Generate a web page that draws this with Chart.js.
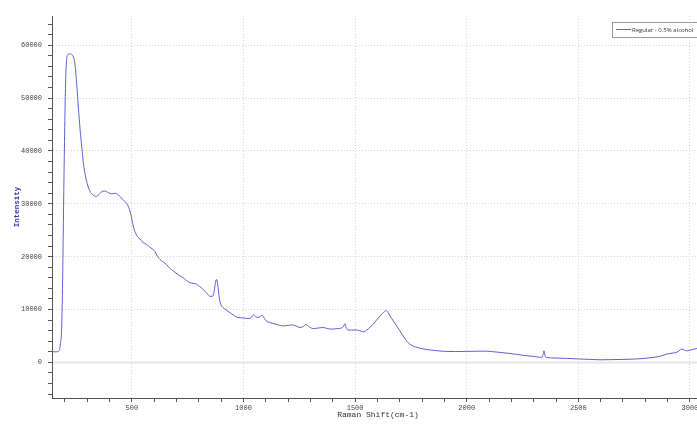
<!DOCTYPE html>
<html>
<head>
<meta charset="utf-8">
<script src="https://cdn.jsdelivr.net/npm/chart.js@4/dist/chart.umd.min.js"></script>
<style>
  html, body { margin: 0; padding: 0; overflow: hidden; background: #fff; }
  #wrap { position: relative; width: 710px; height: 433px; }
</style>
</head>
<body>
<div id="wrap"><canvas id="c"></canvas></div>
<script>
// Raman spectrum: shift (cm-1) and measured intensity
const ramanShift = [
  142, 160, 172, 180, 185, 189, 192, 196, 200, 203, 207, 212, 222, 232, 240, 246, 252, 260, 268, 275,
  282, 289, 300, 312, 325, 342, 355, 370, 379, 395, 409, 425, 439, 460, 483, 495, 506, 518, 530, 550,
  566, 590, 603, 615, 625, 640, 655, 670, 685, 710, 730, 750, 767, 790, 805, 820, 835, 850, 861, 868,
  873, 879, 884, 888, 893, 899, 916, 930, 946, 960, 975, 1000, 1020, 1035, 1045, 1055, 1065, 1075, 1085, 1094,
  1102, 1118, 1147, 1178, 1200, 1215, 1235, 1253, 1268, 1280, 1295, 1312, 1335, 1357, 1375, 1395, 1420, 1439, 1447, 1454,
  1460, 1466, 1485, 1499, 1520, 1536, 1552, 1566, 1580, 1596, 1612, 1626, 1638, 1647, 1656, 1670, 1686, 1700, 1715, 1730,
  1745, 1765, 1790, 1810, 1835, 1870, 1900, 1950, 2000, 2040, 2074, 2110, 2149, 2190, 2224, 2260, 2298, 2325, 2336, 2342,
  2346, 2350, 2356, 2400, 2447, 2500, 2550, 2597, 2650, 2700, 2746, 2790, 2836, 2870, 2896, 2920, 2940, 2955, 2963, 2975,
  2985, 3010, 3031, 3063
];
const intensity = [
  2000, 2000, 2100, 3500, 6300, 14000, 23300, 36000, 47000, 53000, 57000, 58200, 58400, 58200, 57500, 56000, 53000, 48400, 44000, 40900,
  38000, 35900, 33800, 32400, 31700, 31400, 31900, 32400, 32400, 32100, 31900, 32000, 31700, 30800, 29600, 28000, 25800, 24300, 23600, 22700,
  22300, 21500, 21000, 20000, 19500, 19000, 18500, 17800, 17300, 16500, 16000, 15300, 15000, 14800, 14300, 13800, 13100, 12500, 12500, 13300,
  14800, 15700, 14800, 13500, 11800, 10900, 10100, 9700, 9200, 8800, 8500, 8400, 8300, 8500, 9000, 8600, 8500, 8700, 8900, 8300,
  7850, 7550, 7200, 6900, 7000, 7100, 6900, 6600, 6800, 7150, 6700, 6400, 6500, 6600, 6400, 6300, 6400, 6500, 6700, 7300,
  6600, 6150, 6100, 6150, 6000, 5800, 6100, 6600, 7200, 8000, 8800, 9400, 9800, 9500, 8800, 7900, 6900, 6000, 5000, 4100,
  3450, 3000, 2700, 2500, 2350, 2200, 2080, 2050, 2080, 2100, 2130, 2050, 1890, 1700, 1510, 1300, 1130, 980, 940, 1500,
  2200, 1400, 940, 820, 750, 650, 560, 490, 520, 560, 620, 720, 940, 1200, 1570, 1750, 1890, 2300, 2510, 2300,
  2190, 2400, 2640, 2800
];
const seriesLabel = 'Regular - 0.5% alcohol';

// axis ranges and tick spacing
const xRange = [142, 3063];
const yRange = [-6740, 65540];
const xMajor = 500, xMinor = 100;
const yMajor = 10000, yMinor = 2000;

const lineColor = 'rgb(96, 96, 208)';
const axisColor = '#555';
const gridColor = '#d6d6d6';
const monoFamily = '"Liberation Mono", "DejaVu Sans Mono", monospace';
const tickFont = { family: monoFamily, size: 7 };

function stepTicks(step) {
  return function (scale) {
    const out = [];
    for (let v = Math.ceil(scale.min / step) * step; v <= scale.max; v += step) out.push({ value: v });
    scale.ticks = out;
  };
}

// light solid line at zero intensity, under the spectrum
const zeroLine = {
  id: 'zeroLine',
  beforeDatasetsDraw(chart) {
    const { ctx, chartArea, scales } = chart;
    const y = scales.y.getPixelForValue(0);
    ctx.save();
    ctx.strokeStyle = '#e6e6e6';
    ctx.lineWidth = 2;
    ctx.beginPath();
    ctx.moveTo(chartArea.left + 1, y);
    ctx.lineTo(chartArea.right, y);
    ctx.stroke();
    ctx.restore();
  }
};

// boxed legend in the top-right corner of the plot
const boxLegend = {
  id: 'boxLegend',
  afterDraw(chart) {
    const { ctx, chartArea } = chart;
    const ds = chart.data.datasets[0];
    const left = chartArea.right - 92, top = chartArea.top + 6, w = 90, h = 15;
    ctx.save();
    ctx.fillStyle = '#fff';
    ctx.fillRect(left, top, w, h);
    ctx.strokeStyle = '#9a9a9a';
    ctx.lineWidth = 1;
    ctx.strokeRect(left + 0.5, top + 0.5, w, h);
    ctx.strokeStyle = ds.borderColor;
    ctx.beginPath();
    ctx.moveTo(left + 4, top + 7.5);
    ctx.lineTo(left + 19, top + 7.5);
    ctx.stroke();
    ctx.fillStyle = '#333';
    ctx.font = '6px "Open Sans", "Liberation Sans", sans-serif';
    ctx.textBaseline = 'middle';
    ctx.fillText(ds.label, left + 20, top + 8);
    ctx.restore();
  }
};

new Chart(document.getElementById('c'), {
  type: 'line',
  data: {
    datasets: [{
      label: seriesLabel,
      data: ramanShift.map((x, i) => ({ x, y: intensity[i] })),
      borderColor: lineColor,
      borderWidth: 1,
      pointRadius: 0,
      fill: false,
      cubicInterpolationMode: 'monotone'
    }]
  },
  options: {
    responsive: true,
    maintainAspectRatio: false,
    animation: false,
    layout: { padding: { top: 16, right: 6, left: 0, bottom: 0 } },
    plugins: { legend: { display: false }, tooltip: { enabled: false } },
    scales: {
      x: {
        type: 'linear',
        min: xRange[0],
        max: xRange[1],
        afterBuildTicks: stepTicks(xMinor),
        afterFit(s) { s.height = 35; },
        ticks: {
          autoSkip: false, maxRotation: 0, padding: 2,
          color: '#444', font: tickFont,
          callback: v => (v % xMajor === 0 ? String(v) : '')
        },
        grid: {
          color: c => (c.tick && c.tick.value % xMajor === 0 ? gridColor : 'rgba(0,0,0,0)'),
          lineWidth: 1,
          tickLength: 4,
          tickColor: axisColor
        },
        border: { color: axisColor, width: 1, dash: [1, 2] },
        title: {
          display: true,
          text: 'Raman Shift(cm-1)',
          color: '#333',
          font: { family: monoFamily, size: 8 },
          padding: { top: 0, bottom: 13 }
        }
      },
      y: {
        type: 'linear',
        min: yRange[0],
        max: yRange[1],
        afterBuildTicks: stepTicks(yMinor),
        afterFit(s) { s.width = 52; },
        ticks: {
          autoSkip: false, padding: 6,
          color: '#444', font: tickFont,
          callback: v => (v % yMajor === 0 ? String(v) : '')
        },
        grid: {
          color: c => (c.tick && c.tick.value % yMajor === 0 && c.tick.value !== 0 ? gridColor : 'rgba(0,0,0,0)'),
          lineWidth: 1,
          tickLength: 4,
          tickColor: axisColor
        },
        border: { color: axisColor, width: 1, dash: [1, 2] },
        title: {
          display: true,
          text: 'Intensity',
          color: '#3a3aa8',
          font: { family: monoFamily, size: 7.5, weight: 'bold' },
          padding: { top: 13, bottom: 0 }
        }
      }
    }
  },
  plugins: [zeroLine, boxLegend]
});
</script>
</body>
</html>
